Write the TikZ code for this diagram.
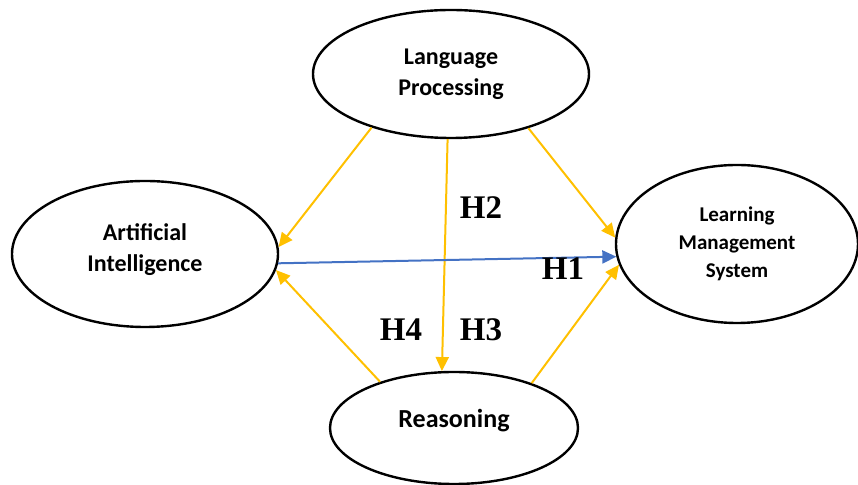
\documentclass[tikz,border=0pt]{standalone}
\usepackage{fontspec}
\setmainfont{Carlito}
\newfontfamily\hfont{Liberation Serif}
\usetikzlibrary{shapes.geometric,arrows.meta}
\definecolor{amber}{HTML}{FFC000}
\definecolor{steel}{HTML}{4472C4}
\tikzset{
  construct/.style={ellipse, draw=black, line width=1.2pt, align=center,
    font=\bfseries\fontsize{12}{15.5}\selectfont, inner sep=0pt},
  caption/.style={align=center, font=\bfseries\fontsize{12}{15.5}\selectfont, inner sep=0pt},
  link/.style={draw=amber, line width=1pt, -{Triangle[length=7pt,width=6.5pt]}},
  mainlink/.style={draw=steel, line width=1pt, -{Triangle[length=7pt,width=6.5pt]}},
  hyp/.style={font=\hfont\bfseries\fontsize{16.5}{18}\selectfont, inner sep=0pt}
}
\begin{document}
\begin{tikzpicture}[x=0.5pt,y=-0.5pt]
\useasboundingbox (0,0) rectangle (858,485);

% constructs
\node[construct, minimum width=138pt, minimum height=64pt] (lp) at (451,74) {Language\\Processing};
\node[construct, minimum width=133pt, minimum height=73pt] (ai) at (145,254) {};
\node[caption] (ailabel) at (145,250) {Artificial\\Intelligence};
\node[construct, minimum width=121pt, minimum height=79pt,
      font=\bfseries\fontsize{10.5}{14}\selectfont] (lms) at (737,244) {Learning\\Management\\System};
\node[construct, minimum width=124pt, minimum height=56pt] (rs) at (454,428) {};
\node[caption, font=\bfseries\fontsize{13}{15.5}\selectfont] (rslabel) at (454,421) {Reasoning};

% hypothesised paths
\draw[link] (lp.214) -- (ai.3);
\draw[link] (lp.267) -- (rs.102);
\draw[link] (lp.325) -- (lms.177);
\draw[mainlink] (ai.-4) -- (lms.186);
\draw[link] (rs.148) -- (ai.-7);
\draw[link] (rs.30) -- (lms.190);

% hypothesis labels
\node[hyp] (h2) at (481,208) {H2};
\node[hyp] (h1) at (563,269) {H1};
\node[hyp] (h4) at (401,330) {H4};
\node[hyp] (h3) at (481,330) {H3};
\end{tikzpicture}
\end{document}
